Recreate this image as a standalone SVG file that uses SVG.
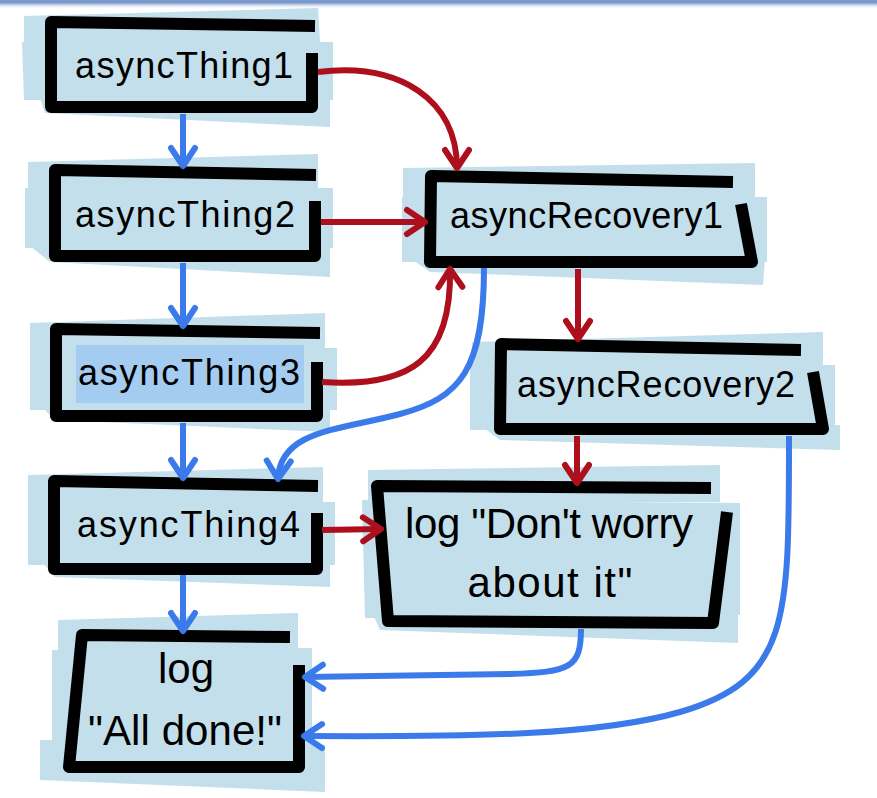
<svg xmlns="http://www.w3.org/2000/svg" width="877" height="798" viewBox="0 0 877 798">
<defs>
<style>
.bg{fill:#c3dfeb}
.fr{fill:none;stroke:#000;stroke-width:12;stroke-linejoin:round;stroke-linecap:butt}
.t{font-family:"Liberation Sans","DejaVu Sans",sans-serif;font-size:36px;fill:#000}
.tb{font-family:"Liberation Sans","DejaVu Sans",sans-serif;font-size:42px;fill:#000;text-anchor:middle}
.blue{fill:none;stroke:#3b7aea;stroke-width:6;stroke-linecap:butt}
.red{fill:none;stroke:#ad0f1c;stroke-width:6;stroke-linecap:butt}
.mb{fill:none;stroke:#3b7aea;stroke-width:6;stroke-linecap:round;stroke-linejoin:round}
.mr{fill:none;stroke:#ad0f1c;stroke-width:6;stroke-linecap:round;stroke-linejoin:round}
marker{overflow:visible}
</style>
<marker id="ab" markerUnits="userSpaceOnUse" markerWidth="30" markerHeight="30" viewBox="0 0 30 30" refX="24" refY="15" orient="auto"><path class="mb" d="M6,3 L24,15 L6,27"/></marker>
<marker id="ar" markerUnits="userSpaceOnUse" markerWidth="30" markerHeight="30" viewBox="0 0 30 30" refX="24" refY="15" orient="auto"><path class="mr" d="M6,3 L24,15 L6,27"/></marker>
<linearGradient id="tg" x1="0" y1="0" x2="0" y2="1"><stop offset="0" stop-color="#7a98cb"/><stop offset="0.3" stop-color="#7a98cb"/><stop offset="1" stop-color="#ffffff" stop-opacity="0"/></linearGradient>
</defs>
<rect width="877" height="798" fill="#fff"/>
<rect x="0" y="0" width="877" height="9" fill="url(#tg)"/>

<g id="asyncThing1">
<polygon class="bg" points="24,16 318,8 320,42 24,44"/>
<polygon class="bg" points="22,42 333,42 333,100 24,100"/>
<polygon class="bg" points="40,98 330,96 330,127 45,113"/>
<path class="fr" d="M315,26 L51,22 L51,107 L312,107 L312,53"/>
<text class="t" x="75" y="78" textLength="218" lengthAdjust="spacing">asyncThing1</text>
</g>

<g id="asyncThing2">
<polygon class="bg" points="28,162 318,154 318,188 28,190"/>
<polygon class="bg" points="25,188 333,188 333,248 25,248"/>
<polygon class="bg" points="30,246 330,246 330,277 50,262"/>
<path class="fr" d="M316,175 L55,170 L55,256 L315,256 L315,201"/>
<text class="t" x="75" y="227" textLength="220" lengthAdjust="spacing">asyncThing2</text>
</g>

<g id="asyncThing3">
<polygon class="bg" points="30,323 325,313 325,348 30,350"/>
<polygon class="bg" points="30,348 337,348 337,410 30,410"/>
<polygon class="bg" points="40,405 330,405 330,432 55,420"/>
<rect x="76" y="345" width="228" height="58" fill="#a4ccf0"/>
<path class="fr" d="M320,333 L56,329 L56,416 L317,416 L317,362"/>
<text class="t" x="78" y="385" textLength="222" lengthAdjust="spacing">asyncThing3</text>
</g>

<g id="asyncThing4">
<polygon class="bg" points="28,475 323,467 323,502 28,505"/>
<polygon class="bg" points="28,502 335,502 335,565 28,565"/>
<polygon class="bg" points="40,560 330,560 330,587 55,577"/>
<path class="fr" d="M318,486 L54,481 L54,569 L317,569 L317,513"/>
<text class="t" x="77" y="537" textLength="223" lengthAdjust="spacing">asyncThing4</text>
</g>

<g id="logAllDone">
<polygon class="bg" points="58,620 298,613 298,650 58,655"/>
<polygon class="bg" points="52,650 312,648 312,760 52,760"/>
<polygon class="bg" points="40,740 325,745 325,792 40,780"/>
<path class="fr" d="M290,637 L82,635 L69,767 L299,767 L299,665"/>
<text class="tb" x="186" y="683">log</text>
<text class="tb" x="185" y="745" textLength="194" lengthAdjust="spacing">"All done!"</text>
</g>

<g id="asyncRecovery1">
<polygon class="bg" points="403,168 755,163 755,198 403,200"/>
<polygon class="bg" points="402,197 767,197 767,262 402,262"/>
<polygon class="bg" points="410,258 765,258 763,285 430,272"/>
<path class="fr" d="M733,182 L431,176 L430,262 L752,262 L741,204"/>
<text class="t" x="450" y="228" textLength="273" lengthAdjust="spacing">asyncRecovery1</text>
</g>

<g id="asyncRecovery2">
<polygon class="bg" points="472,342 823,332 823,367 472,368"/>
<polygon class="bg" points="470,365 835,365 835,430 470,430"/>
<polygon class="bg" points="480,425 840,425 840,450 500,440"/>
<path class="fr" d="M801,350 L501,344 L500,429 L823,429 L813,372"/>
<text class="t" x="517" y="397" textLength="278" lengthAdjust="spacing">asyncRecovery2</text>
</g>

<g id="logDontWorry">
<polygon class="bg" points="368,470 720,465 720,502 368,502"/>
<polygon class="bg" points="362,500 740,503 740,615 365,618"/>
<polygon class="bg" points="372,612 738,615 738,643 380,630"/>
<path class="fr" d="M711,488 L377,486 L388,621 L713,623 L727,512"/>
<text class="tb" x="549" y="538" textLength="288" lengthAdjust="spacing">log "Don't worry</text>
<text class="tb" x="550" y="597" textLength="165" lengthAdjust="spacing">about it"</text>
</g>

<g id="connectors">
<path class="blue" d="M183,114 L183,166" marker-end="url(#ab)"/>
<path class="blue" d="M183,263 L183,326" marker-end="url(#ab)"/>
<path class="blue" d="M183,423 L183,478" marker-end="url(#ab)"/>
<path class="blue" d="M183,575 L183,631" marker-end="url(#ab)"/>
<path class="red" d="M318,72 C400,62 457,100 457,168" marker-end="url(#ar)"/>
<path class="red" d="M321,222 L425,222" marker-end="url(#ar)"/>
<path class="red" d="M322,382 C410,388 452,360 450,269" marker-end="url(#ar)"/>
<path class="red" d="M578,269 L578,339" marker-end="url(#ar)"/>
<path class="red" d="M577,436 L577,483" marker-end="url(#ar)"/>
<path class="red" d="M322,530 L381,529" marker-end="url(#ar)"/>
<path class="blue" d="M484,268 C484,370 460,398 400,414 C340,430 280,430 278,479" marker-end="url(#ab)"/>
<path class="blue" d="M581,629 C581,668 570,672 510,674 L305,677" marker-end="url(#ab)"/>
<path class="blue" d="M789,436 C789,620 790,680 680,712 C600,735 480,737 304,736" marker-end="url(#ab)"/>
</g>
</svg>
